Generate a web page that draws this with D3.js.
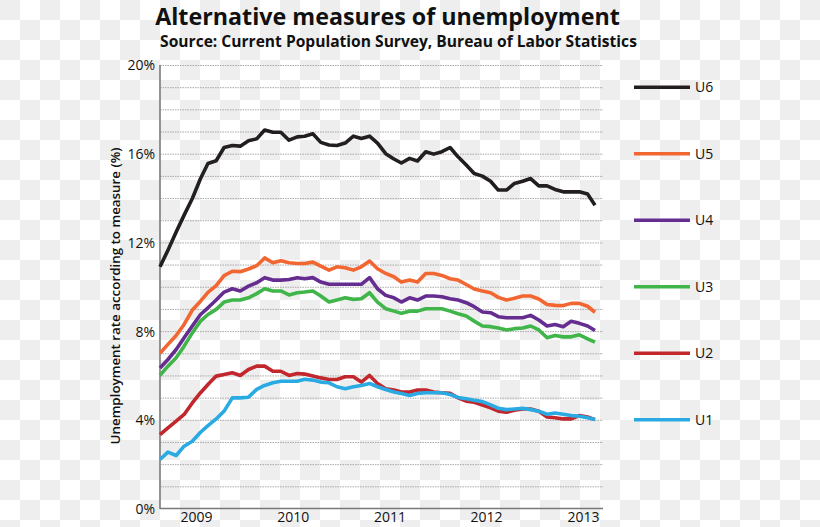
<!DOCTYPE html>
<html>
<head>
<meta charset="utf-8">
<script src="https://cdn.jsdelivr.net/npm/d3@7"></script>
<style>
  html, body { margin: 0; padding: 0; background: #fff; }
  svg { display: block; }
  text { font-family: "Open Sans", "Noto Sans", sans-serif; fill: #111; }
</style>
</head>
<body>
<svg id="chart" width="820" height="527"></svg>
<script>
// ---- Data ----
const seriesNames = ["U6", "U5", "U4", "U3", "U2", "U1"];
const seriesColors = ["#231f20", "#f26631", "#662d91", "#3fb54a", "#c1272d", "#2aaae2"];

const u6 = [10.9, 11.65, 12.47, 13.23, 13.98, 14.88, 15.56, 15.68, 16.28, 16.37,
  16.34, 16.58, 16.67, 17.07, 16.97, 16.97, 16.61, 16.76, 16.79, 16.9,
  16.51, 16.39, 16.37, 16.48, 16.79, 16.69, 16.79, 16.48, 16.0, 15.76,
  15.58, 15.79, 15.67, 16.09, 15.98, 16.09, 16.28, 15.86, 15.49, 15.11,
  14.99, 14.76, 14.36, 14.36, 14.66, 14.76, 14.88, 14.55, 14.55, 14.39,
  14.28, 14.28, 14.28, 14.18, 13.68];
const u5 = [7.0, 7.4, 7.8, 8.3, 8.95, 9.35, 9.75, 10.05, 10.5, 10.7,
  10.68, 10.8, 10.95, 11.3, 11.08, 11.17, 11.08, 11.05, 11.05, 11.11,
  10.93, 10.75, 10.9, 10.86, 10.75, 10.9, 11.16, 10.81, 10.6, 10.45,
  10.21, 10.3, 10.21, 10.6, 10.6, 10.51, 10.36, 10.3, 10.1, 9.9,
  9.81, 9.73, 9.52, 9.4, 9.48, 9.58, 9.58, 9.45, 9.2, 9.16,
  9.15, 9.25, 9.25, 9.12, 8.85];
const u4 = [6.34, 6.72, 7.17, 7.7, 8.23, 8.75, 9.05, 9.4, 9.76, 9.91,
  9.81, 10.03, 10.18, 10.41, 10.3, 10.3, 10.33, 10.41, 10.36, 10.41,
  10.21, 10.11, 10.11, 10.11, 10.11, 10.11, 10.41, 9.91, 9.61, 9.5,
  9.31, 9.5, 9.4, 9.58, 9.58, 9.55, 9.46, 9.4, 9.28, 9.1,
  8.86, 8.83, 8.65, 8.6, 8.6, 8.6, 8.71, 8.5, 8.23, 8.3,
  8.2, 8.44, 8.35, 8.23, 8.03];
const u3 = [6.0, 6.42, 6.8, 7.32, 7.92, 8.45, 8.75, 8.98, 9.31, 9.4,
  9.4, 9.5, 9.69, 9.91, 9.81, 9.81, 9.63, 9.73, 9.76, 9.81,
  9.58, 9.31, 9.4, 9.5, 9.43, 9.46, 9.73, 9.31, 9.01, 8.9,
  8.8, 8.9, 8.9, 9.01, 9.01, 9.01, 8.9, 8.78, 8.68, 8.45,
  8.23, 8.2, 8.14, 8.05, 8.11, 8.14, 8.23, 8.05, 7.7, 7.8,
  7.74, 7.74, 7.83, 7.65, 7.5];
const u2 = [3.33, 3.64, 3.94, 4.24, 4.76, 5.22, 5.59, 5.97, 6.04, 6.12,
  6.0, 6.27, 6.42, 6.42, 6.19, 6.19, 6.0, 6.09, 6.06, 5.97,
  5.89, 5.82, 5.82, 5.94, 5.94, 5.7, 6.0, 5.64, 5.4, 5.34,
  5.25, 5.25, 5.34, 5.34, 5.25, 5.22, 5.19, 4.99, 4.84, 4.79,
  4.67, 4.54, 4.39, 4.34, 4.43, 4.49, 4.49, 4.39, 4.13, 4.09,
  4.04, 4.04, 4.19, 4.13, 4.01];
const u1 = [2.21, 2.54, 2.39, 2.81, 3.03, 3.44, 3.74, 4.04, 4.39, 4.99,
  4.99, 5.02, 5.37, 5.55, 5.67, 5.74, 5.74, 5.74, 5.83, 5.79,
  5.7, 5.67, 5.49, 5.4, 5.49, 5.55, 5.64, 5.49, 5.37, 5.25,
  5.19, 5.1, 5.19, 5.22, 5.22, 5.22, 5.14, 5.01, 4.95, 4.88,
  4.82, 4.67, 4.52, 4.46, 4.49, 4.52, 4.46, 4.39, 4.25, 4.31,
  4.25, 4.19, 4.16, 4.09, 4.01];
const seriesValues = [u6, u5, u4, u3, u2, u1];

const firstMonth = new Date(2008, 8, 1);   // Sep 2008
const lastMonth = new Date(2013, 2, 1);    // Mar 2013
const yearTicks = [2009, 2010, 2011, 2012, 2013];
const yTicks = [0, 4, 8, 12, 16, 20];
const legendLevels = [19, 16, 13, 10, 7, 4];

const titleText = "Alternative measures of unemployment";
const subtitleText = "Source: Current Population Survey, Bureau of Labor Statistics";
const yTitleText = "Unemployment rate according to measure (%)";

// ---- Drawing ----
const svg = d3.select("#chart");
const W = 820, H = 527;

// checkerboard background (transparent-PNG look of the reference)
const defs = svg.append("defs");
const pat = defs.append("pattern").attr("id", "checker")
  .attr("width", 40).attr("height", 40).attr("patternUnits", "userSpaceOnUse");
pat.append("rect").attr("width", 40).attr("height", 40).attr("fill", "#ffffff");
pat.append("rect").attr("x", 0).attr("y", 0).attr("width", 20).attr("height", 20).attr("fill", "#eeeeee");
pat.append("rect").attr("x", 20).attr("y", 20).attr("width", 20).attr("height", 20).attr("fill", "#eeeeee");
svg.append("rect").attr("width", W).attr("height", H).attr("fill", "url(#checker)");

const plotLeft = 160, plotRight = 603, plotTop = 65, plotBottom = 508.5;

const x = d3.scaleTime().domain([firstMonth, lastMonth]).range([160, 595]);
const y = d3.scaleLinear().domain([0, 20]).range([plotBottom, plotTop]);

const months = d3.timeMonths(firstMonth, d3.timeMonth.offset(lastMonth, 1));

// gridlines every 1%
const gridG = svg.append("g")
  .attr("transform", `translate(${plotLeft},0)`)
  .call(d3.axisLeft(y).tickValues(d3.range(1, 21)).tickSize(-(plotRight - plotLeft)).tickFormat(""));
gridG.select(".domain").remove();
gridG.selectAll(".tick line").attr("stroke", "#a8a8a8").attr("stroke-width", 1).attr("stroke-dasharray", "1.5,1");

// y axis
const yAxis = svg.append("g")
  .attr("transform", `translate(${plotLeft},0)`)
  .call(d3.axisLeft(y).tickValues(yTicks).tickSize(0).tickPadding(5).tickFormat(d => d + "%"));
yAxis.select(".domain").remove();
yAxis.selectAll("text").style("font-size", "14px").attr("fill", "#222").attr("dy", "0.35em");

// x axis
const xAxis = svg.append("g")
  .attr("transform", `translate(0,${plotBottom})`)
  .call(d3.axisBottom(x).tickValues(yearTicks.map(yr => new Date(yr, 0, 15)))
    .tickSize(0).tickPadding(4).tickFormat(d3.timeFormat("%Y")));
xAxis.select(".domain").remove();
xAxis.selectAll("text").style("font-size", "14px").attr("fill", "#222");

// axis lines
svg.append("line").attr("x1", plotLeft).attr("x2", plotLeft).attr("y1", plotTop).attr("y2", plotBottom + 0.5)
  .attr("stroke", "#7a7a7a").attr("stroke-width", 1.6);
svg.append("line").attr("x1", plotLeft).attr("x2", plotRight).attr("y1", plotBottom).attr("y2", plotBottom)
  .attr("stroke", "#7a7a7a").attr("stroke-width", 1.6);

// lines (U1 drawn last)
const line = d3.line().x((d, i) => x(months[i])).y(d => y(d)).curve(d3.curveLinear);
seriesValues.forEach((vals, k) => {
  svg.append("path").datum(vals)
    .attr("d", line)
    .attr("fill", "none")
    .attr("stroke", seriesColors[k])
    .attr("stroke-width", 3.6)
    .attr("stroke-linejoin", "round")
    .attr("stroke-linecap", "butt");
});

// legend
seriesNames.forEach((name, k) => {
  const ly = y(legendLevels[k]);
  svg.append("line").attr("x1", 634).attr("x2", 690).attr("y1", ly).attr("y2", ly)
    .attr("stroke", seriesColors[k]).attr("stroke-width", 3.4);
  svg.append("text").attr("x", 695).attr("y", ly).attr("dy", "0.36em")
    .style("font-size", "14px").attr("fill", "#222").text(name);
});

// helper: fit a text to a target width
function fit(sel, targetWidth) {
  const w = sel.node().getComputedTextLength();
  const fs = parseFloat(sel.style("font-size"));
  sel.style("font-size", (fs * targetWidth / w).toFixed(2) + "px");
}

// title
const t1 = svg.append("text").attr("x", 387.5).attr("y", 25).attr("text-anchor", "middle")
  .style("font-size", "26px").style("font-weight", "700").attr("fill", "#111").text(titleText);
fit(t1, 465);
const t2 = svg.append("text").attr("x", 398.5).attr("y", 47).attr("text-anchor", "middle")
  .style("font-size", "16px").style("font-weight", "700").attr("fill", "#111").text(subtitleText);
fit(t2, 477);

// y-axis title
const yt = svg.append("text")
  .attr("transform", "translate(120,296) rotate(-90)")
  .attr("text-anchor", "middle")
  .style("font-size", "13px").style("font-weight", "600").attr("fill", "#111").text(yTitleText);
fit(yt, 297);
</script>
</body>
</html>
